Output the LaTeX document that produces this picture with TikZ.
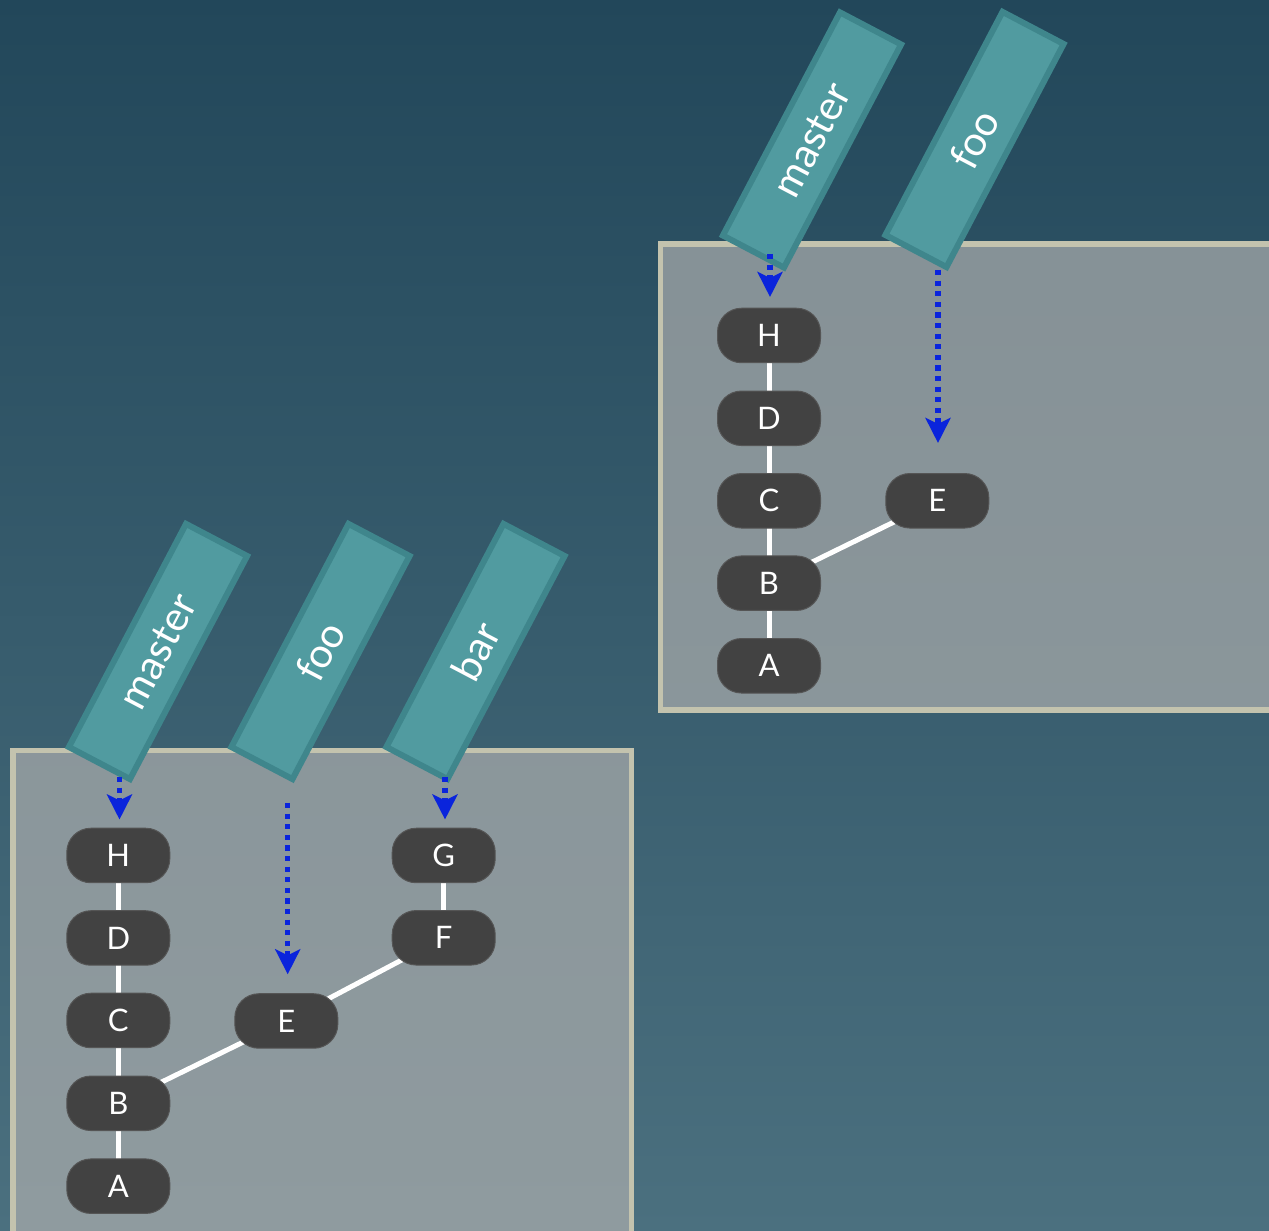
\documentclass[tikz,border=0pt]{standalone}
\usepackage{fontspec}
\setmainfont{Lato}
\usetikzlibrary{arrows.meta}
\definecolor{bgtop}{HTML}{22475A}
\definecolor{bgbot}{HTML}{4B707F}
\definecolor{panelfill}{RGB}{170,172,172}
\definecolor{panelborder}{HTML}{C3C3AE}
\definecolor{commitfill}{HTML}{424242}
\definecolor{commitdraw}{HTML}{555555}
\definecolor{tagfill}{HTML}{519BA0}
\definecolor{tagdraw}{HTML}{3F868C}
\definecolor{ptrblue}{HTML}{0A24DC}
\pgfdeclarelayer{bg}
\pgfdeclarelayer{edges}
\pgfsetlayers{bg,edges,main}
\begin{document}
\begin{tikzpicture}[x=1pt,y=1pt,
  commit/.style={draw=commitdraw, line width=1pt, fill=commitfill, rounded corners=24pt,
    minimum width=103pt, minimum height=54.5pt, inner sep=0pt, text=white,
    font=\fontsize{31}{36}\selectfont},
  branchtag/.style={draw=tagdraw, line width=6pt, fill=tagfill, minimum width=252pt,
    minimum height=69pt, inner sep=0pt, rotate=62.3, text=white,
    font=\fontsize{41}{46}\selectfont},
  panel/.style={draw=panelborder, line width=5.5pt, fill=panelfill, fill opacity=0.72},
  link/.style={draw=white, line width=5pt},
  pointer/.style={draw=ptrblue, line width=5.3pt, dash pattern=on 5.3pt off 5.3pt,
    -{Stealth[length=25pt,width=25pt,inset=6pt]}}
]
\useasboundingbox (0,0) rectangle (1269,1231);
\clip (0,0) rectangle (1269,1231);
\begin{pgfonlayer}{bg}
  \shade[top color=bgtop, bottom color=bgbot] (0,0) rectangle (1269,1231);
  \path[panel] (660.7,521) rectangle (1285,987.2);
  \path[panel] (13,-20) rectangle (631.7,480.5);
\end{pgfonlayer}

% right repository
\node[commit] (rH) at (769,895.5) {H};
\node[commit] (rD) at (769,812.7) {D};
\node[commit] (rC) at (769,730.2) {C};
\node[commit] (rB) at (769,647.8) {B};
\node[commit] (rA) at (769,565.2) {A};
\node[commit] (rE) at (937.3,730.2) {E};

% left repository
\node[commit] (lH) at (118.3,375.5) {H};
\node[commit] (lD) at (118.3,293) {D};
\node[commit] (lC) at (118.3,210.5) {C};
\node[commit] (lB) at (118.3,127.7) {B};
\node[commit] (lA) at (118.3,44.8) {A};
\node[commit] (lE) at (286.3,210) {E};
\node[commit] (lG) at (443.7,375.5) {G};
\node[commit] (lF) at (443.7,293.2) {F};

\begin{pgfonlayer}{edges}
  \draw[link] (rH.center) -- (rD.center) -- (rC.center) -- (rB.center) -- (rA.center);
  \draw[link] (rB.center) -- (rE.center);
  \draw[link] (lH.center) -- (lD.center) -- (lC.center) -- (lB.center) -- (lA.center);
  \draw[link] (lB.center) -- (lE.center);
  \draw[link] (lE.center) -- (lF.center);
  \draw[link] (lF.center) -- (lG.center);
\end{pgfonlayer}

% branch tags
\node[branchtag] (tRmaster) at (812,1091) {master};
\node[branchtag] (tRfoo) at (974.5,1091.5) {foo};
\node[branchtag] (tLmaster) at (158,579.5) {master};
\node[branchtag] (tLfoo) at (320.5,579.5) {foo};
\node[branchtag] (tLbar) at (475.5,579.5) {bar};

% pointer arrows
\coordinate (pRm0) at (770,977);
\coordinate (pRm1) at (770,934);
\coordinate (pRf0) at (938,961);
\coordinate (pRf1) at (938,788);
\coordinate (pLm0) at (119.5,454);
\coordinate (pLm1) at (119.5,411.5);
\coordinate (pLf0) at (287.7,428);
\coordinate (pLf1) at (287.7,256.7);
\coordinate (pLb0) at (445,454);
\coordinate (pLb1) at (445,411.5);
\draw[pointer] (pRm0) -- (pRm1);
\draw[pointer] (pRf0) -- (pRf1);
\draw[pointer] (pLm0) -- (pLm1);
\draw[pointer] (pLf0) -- (pLf1);
\draw[pointer] (pLb0) -- (pLb1);
\end{tikzpicture}
\end{document}
